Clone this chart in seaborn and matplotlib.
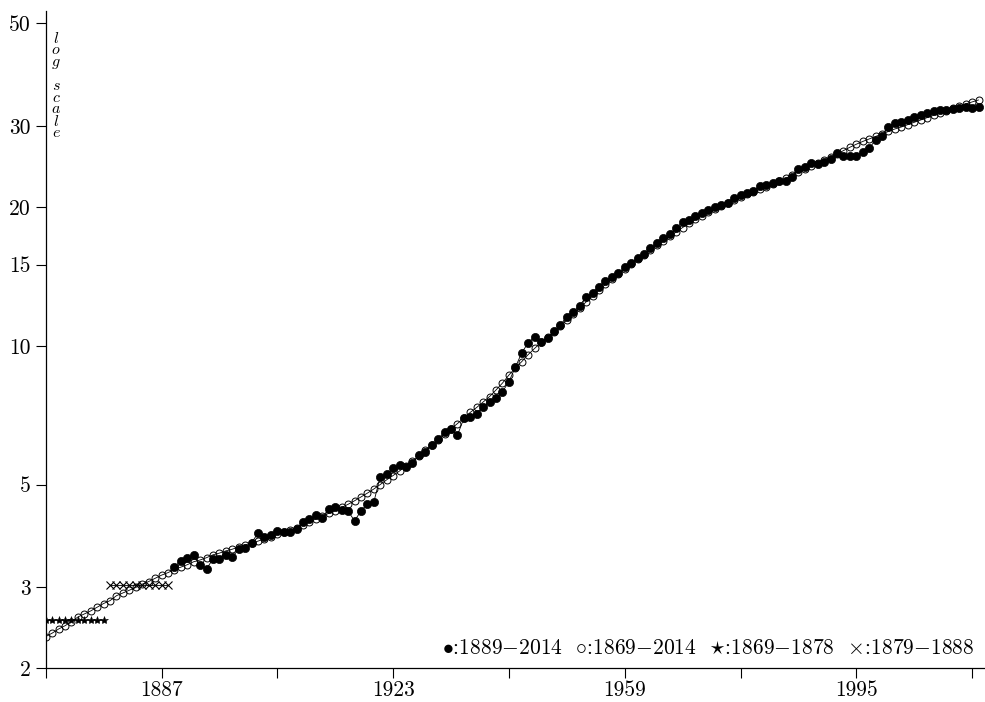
import matplotlib
matplotlib.use("Agg")
import matplotlib.pyplot as plt
import seaborn as sns

# Annual series, 1889-2014 (filled dots)
years_recent = list(range(1889, 2015))
values_recent = [
    3.31, 3.42, 3.46, 3.51, 3.34, 3.28, 3.45, 3.45, 3.52, 3.48,   # 1889-1898
    3.62, 3.65, 3.74, 3.92, 3.85, 3.89, 3.97, 3.94, 3.94, 4.01,   # 1899-1908
    4.15, 4.20, 4.29, 4.23, 4.43, 4.46, 4.40, 4.38, 4.17, 4.38,   # 1909-1918
    4.54, 4.58, 5.20, 5.27, 5.42, 5.51, 5.47, 5.56, 5.79, 5.89,   # 1919-1928
    6.09, 6.27, 6.51, 6.59, 6.40, 6.96, 7.00, 7.11, 7.35, 7.56,   # 1929-1938
    7.69, 7.95, 8.36, 8.98, 9.66, 10.15, 10.46, 10.18, 10.40, 10.75,  # 1939-1948
    11.09, 11.56, 11.86, 12.20, 12.78, 13.04, 13.43, 13.84, 14.12, 14.36,  # 1949-1958
    14.80, 15.14, 15.48, 15.81, 16.27, 16.68, 17.11, 17.48, 17.98, 18.58,  # 1959-1968
    18.74, 19.12, 19.44, 19.70, 20.03, 20.20, 20.37, 20.89, 21.23, 21.48,  # 1969-1978
    21.70, 22.21, 22.32, 22.58, 22.79, 22.80, 23.20, 24.14, 24.46, 24.87,  # 1979-1988
    24.79, 25.08, 25.38, 26.15, 25.80, 25.80, 25.80, 26.37, 26.82, 27.95,  # 1989-1998
    28.51, 29.88, 30.48, 30.62, 30.88, 31.30, 31.66, 31.93, 32.36, 32.47,  # 1999-2008
    32.47, 32.68, 32.74, 32.91, 32.74, 33.00,                              # 2009-2014
]

# Annual series, 1869-2014 (open circles)
years_long = list(range(1869, 2015))
values_long = [
    2.34, 2.38, 2.43, 2.47, 2.52, 2.58, 2.62, 2.66, 2.71, 2.76,   # 1869-1878
    2.80, 2.87, 2.91, 2.95, 2.99, 3.04, 3.08, 3.13, 3.18, 3.22,   # 1879-1888
    3.27, 3.31, 3.35, 3.40, 3.43, 3.47, 3.52, 3.55, 3.59, 3.62,   # 1889-1898
    3.66, 3.70, 3.73, 3.77, 3.81, 3.85, 3.90, 3.94, 3.98, 4.03,   # 1899-1908
    4.09, 4.15, 4.21, 4.27, 4.33, 4.39, 4.46, 4.53, 4.61, 4.70,   # 1909-1918
    4.79, 4.89, 5.00, 5.12, 5.23, 5.35, 5.49, 5.61, 5.77, 5.93,   # 1919-1928
    6.09, 6.25, 6.42, 6.60, 6.78, 6.97, 7.17, 7.35, 7.55, 7.76,   # 1929-1938
    8.02, 8.30, 8.64, 8.95, 9.24, 9.57, 9.87, 10.17, 10.45, 10.71,  # 1939-1948
    11.04, 11.37, 11.72, 12.08, 12.44, 12.82, 13.21, 13.58, 13.96, 14.31,  # 1949-1958
    14.67, 15.05, 15.39, 15.74, 16.13, 16.50, 16.88, 17.26, 17.65, 18.05,  # 1959-1968
    18.42, 18.79, 19.12, 19.46, 19.80, 20.10, 20.40, 20.71, 21.02, 21.29,  # 1969-1978
    21.56, 21.83, 22.10, 22.38, 22.72, 23.06, 23.47, 23.82, 24.18, 24.55,  # 1979-1988
    24.92, 25.29, 25.67, 26.06, 26.50, 26.95, 27.36, 27.74, 28.09, 28.44,  # 1989-1998
    28.80, 29.16, 29.53, 29.82, 30.17, 30.53, 30.89, 31.24, 31.62, 31.98,  # 1999-2008
    32.35, 32.71, 33.07, 33.46, 33.79, 34.13,                              # 2009-2014
]

# Flat segments for the two early periods
years_first = list(range(1869, 1879))
values_first = [2.54, 2.54, 2.54, 2.54, 2.54, 2.54, 2.54, 2.54, 2.54, 2.54]
years_second = list(range(1879, 1889))
values_second = [3.03, 3.03, 3.03, 3.03, 3.03, 3.03, 3.03, 3.03, 3.03, 3.03]

y_ticks = [2, 3, 5, 10, 15, 20, 30, 50]
x_ticks = [1869, 1887, 1905, 1923, 1941, 1959, 1977, 1995, 2013]
x_tick_labels = ["", "1887", "", "1923", "", "1959", "", "1995", ""]
legend_text = (r"$\bullet$:1889$-$2014  $\circ$:1869$-$2014  "
               r"$\star$:1869$-$1878  $\times$:1879$-$1888")
# vertical axis note, one italic letter per line
side_note = "\n".join(["$l$", "$o$", "$g$", " ", "$s$", "$c$", "$a$", "$l$", "$e$"])

sns.set_theme(style="ticks")
plt.rcParams.update({
    "font.family": ["cmr10"],
    "mathtext.fontset": "cm",
    "axes.formatter.use_mathtext": True,
    "axes.unicode_minus": False,
    "axes.linewidth": 0.9,
    "axes.edgecolor": "black",
})

W, H = 985, 702
fig = plt.figure(figsize=(W / 100, H / 100), dpi=100)
left, bottom, top = 45.7, 668.0, 10.7
ax = fig.add_axes([left / W, (H - bottom) / H, (W - left) / W, (bottom - top) / H])

line_kw = dict(color="black", linewidth=0.6, ax=ax, legend=False)

sns.lineplot(x=years_long, y=values_long, marker="o", markersize=5.0,
             markerfacecolor="none", markeredgecolor="black",
             markeredgewidth=0.7, zorder=2, **line_kw)
sns.lineplot(x=years_recent, y=values_recent, marker="o", markersize=5.9,
             markerfacecolor="black", markeredgecolor="black",
             markeredgewidth=0.5, zorder=3, **line_kw)
sns.lineplot(x=years_first, y=values_first, marker="*", markersize=6.0,
             markerfacecolor="black", markeredgecolor="black",
             markeredgewidth=0.4, zorder=4, **line_kw)
sns.lineplot(x=years_second, y=values_second, marker="x", markersize=5.5,
             markeredgecolor="black", markeredgewidth=0.8, zorder=4, **line_kw)

ax.set_yscale("log")
ax.set_ylim(2, 53.3)
ax.set_xlim(1869, 2015)
ax.set_yticks(y_ticks)
ax.set_yticklabels([str(v) for v in y_ticks])
ax.yaxis.set_minor_locator(matplotlib.ticker.NullLocator())
ax.set_xticks(x_ticks)
ax.set_xticklabels(x_tick_labels)
ax.tick_params(axis="both", which="major", length=7.2, width=0.8,
               color="black", labelsize=15.5, labelcolor="black", direction="out")
ax.tick_params(axis="x", pad=2)
ax.tick_params(axis="y", pad=3.5)
ax.set_xlabel("")
ax.set_ylabel("")
sns.despine(ax=ax)
ax.spines["left"].set_color("black")
ax.spines["bottom"].set_color("black")

ax.text(0.989, 0.031, legend_text, transform=ax.transAxes, ha="right",
        va="center", fontsize=15.5, color="black")

fig.text(56 / W, 1 - 31 / H, side_note, ha="center", va="top",
         fontsize=11.5, linespacing=0.78, color="black")

fig.savefig("out.png", dpi=100)
